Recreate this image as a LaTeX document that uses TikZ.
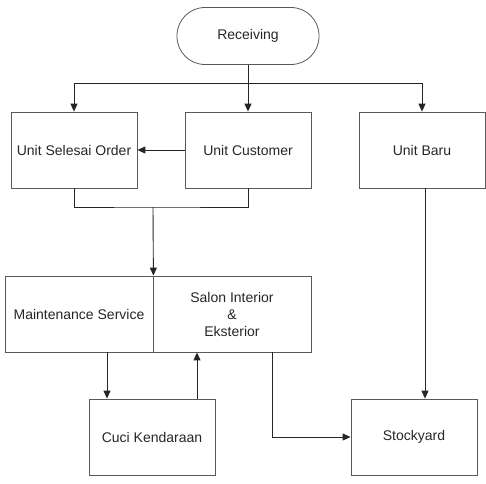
\documentclass[tikz,border=0pt]{standalone}
\usepackage{fontspec}
\setmainfont{Liberation Sans}
\usetikzlibrary{arrows.meta}

\tikzset{
  box/.style={draw=black!65, line width=0.8pt, minimum width=126pt, minimum height=76pt, inner sep=0pt, align=center, text=black!85, font=\fontsize{14}{17}\selectfont},
  arr/.style={-{Triangle[length=8pt,width=7pt]}},
  line/.style={line width=0.9pt, black!85}
}

\begin{document}
\begin{tikzpicture}[x=1pt,y=-1pt]
\useasboundingbox (0,0) rectangle (486,483);
% start
\node [box, minimum width=142pt, minimum height=57pt, rounded corners=28pt] (recv) at (248,36) {Receiving};
% units
\node [box] (uso) at (74,150) {Unit Selesai Order};
\node [box] (uc) at (248,150) {Unit Customer};
\node [box] (ub) at (422,150) {Unit Baru};
% service
\node [box, minimum width=148pt] (ms) at (79,314) {Maintenance Service};
\node [box, minimum width=158pt] (salon) at (232,314) {Salon Interior\\\&\\Eksterior};
\node [box] (cuci) at (152,437) {Cuci Kendaraan};
\node [box] (stock) at (414,437) {Stockyard};
\coordinate (split) at (248,83);
\coordinate (join) at (153,207);
% connectors
\draw [line] (recv) -- (split);
\draw [line,arr] (split) -| (uso.north);
\draw [line,arr] (split) -- (uc.north);
\draw [line,arr] (split) -| (ub.north);
\draw [line,arr] (uc) -- (uso);
\draw [line] (uso.south) |- (join) -| (uc.south);
\draw [line,arr] (join) -- (ms.north east);
\draw [line,arr] ([xshift=28pt]ms.south) -- ([xshift=28pt]ms.south |- cuci.north);
\draw [line,arr] ([xshift=45pt]cuci.north) -- ([xshift=45pt]cuci.north |- salon.south);
\draw [line,arr] ([xshift=40pt]salon.south) |- (stock.west);
\draw [line,arr] ([xshift=3pt]ub.south) -- ([xshift=3pt]ub.south |- stock.north);
\end{tikzpicture}
\end{document}
